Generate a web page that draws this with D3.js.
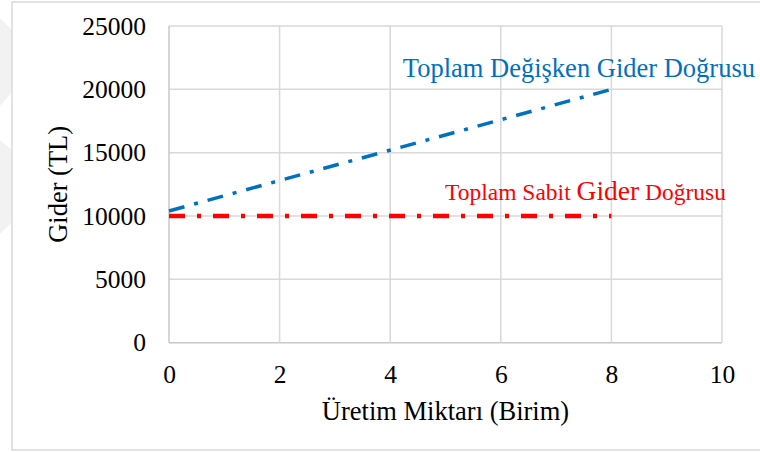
<!DOCTYPE html>
<html>
<head>
<meta charset="utf-8">
<script src="https://cdn.jsdelivr.net/npm/d3@7"></script>
<style>
  body { margin: 0; background: #fff; }
  svg text { font-family: "Times New Roman", "Liberation Serif", Tinos, "DejaVu Serif", serif; }
</style>
</head>
<body>
<div id="chart"></div>
<script>
var width = 760,
	height = 452;

var serif = "'Times New Roman', 'Liberation Serif', Tinos, 'DejaVu Serif', serif";

// veriler
var xTicks = [0, 2, 4, 6, 8, 10];
var yTicks = [0, 5000, 10000, 15000, 20000, 25000];
var sabitX = [0, 8];
var sabitY = [10000, 10000];
var degiskenX = [0, 8];
var degiskenY = [10400, 20000];

var svg = d3.select("#chart").append("svg")
	.attr("width", width)
	.attr("height", height)
	.style("font-family", serif);

// arka plandaki soluk filigran
svg.append("path")
	.attr("d", "M0,18 L12,30 L12,92 L0,106 Z M0,140 L12,150 L12,222 L0,234 Z")
	.style("fill", "#f2f2f2");

// dış çerçeve
svg.append("rect")
	.attr("x", 12)
	.attr("y", 2)
	.attr("width", 770)
	.attr("height", 448)
	.style("fill", "none")
	.style("stroke", "#d9d9d9")
	.style("stroke-width", 1.5);

var x = d3.scaleLinear().domain([0, 10]).range([169, 722]);
var y = d3.scaleLinear().domain([0, 25000]).range([342.7, 26]);

// ızgara
var grid = svg.append("g");
grid.selectAll(".hgrid")
	.data(yTicks)
	.enter()
	.append("line")
	.attr("x1", x(0))
	.attr("x2", x(10))
	.attr("y1", function(d){ return y(d); })
	.attr("y2", function(d){ return y(d); })
	.style("stroke", function(d){ return d === 0 ? "#c8c8c8" : "#d9d9d9"; })
	.style("stroke-width", 1.5);

grid.selectAll(".vgrid")
	.data(xTicks)
	.enter()
	.append("line")
	.attr("x1", function(d){ return x(d); })
	.attr("x2", function(d){ return x(d); })
	.attr("y1", y(0))
	.attr("y2", y(25000))
	.style("stroke", function(d){ return d === 0 ? "#c8c8c8" : "#d9d9d9"; })
	.style("stroke-width", 1.5);

// eksen etiketleri
var yAxis = d3.axisLeft(y).tickValues(yTicks).tickSize(0).tickPadding(23).tickFormat(d3.format("d"));
var gy = svg.append("g").attr("transform", "translate(" + x(0) + ",0)").call(yAxis);
gy.attr("font-family", null);
gy.select(".domain").remove();
gy.selectAll("text")
	.style("font-family", serif)
	.style("font-size", "25.5px")
	.style("fill", "#000");

var xAxis = d3.axisBottom(x).tickValues(xTicks).tickSize(0).tickPadding(22).tickFormat(d3.format("d"));
var gx = svg.append("g").attr("transform", "translate(0," + y(0) + ")").call(xAxis);
gx.attr("font-family", null);
gx.select(".domain").remove();
gx.selectAll("text")
	.style("font-family", serif)
	.style("font-size", "25.5px")
	.style("fill", "#000");

// eksen başlıkları
svg.append("text")
	.attr("x", (x(0) + x(10)) / 2)
	.attr("y", 420)
	.attr("text-anchor", "middle")
	.style("font-size", "26.5px")
	.text("Üretim Miktarı (Birim)");

svg.append("text")
	.attr("transform", "translate(67," + ((y(0) + y(25000)) / 2) + ") rotate(-90)")
	.attr("text-anchor", "middle")
	.style("font-size", "26.5px")
	.text("Gider (TL)");

// çizgiler
var line = d3.line()
	.x(function(d){ return x(d[0]); })
	.y(function(d){ return y(d[1]); });

svg.append("path")
	.datum(d3.zip(degiskenX, degiskenY))
	.attr("d", line)
	.style("fill", "none")
	.style("stroke", "#0070c0")
	.style("stroke-width", 3.5)
	.style("stroke-dasharray", "16,10,4,10");

svg.append("path")
	.datum(d3.zip(sabitX, sabitY))
	.attr("d", line)
	.style("fill", "none")
	.style("stroke", "#ff0000")
	.style("stroke-width", 4.5)
	.style("stroke-dasharray", "16,12,4,12");

// çizgi açıklamaları
svg.append("text")
	.attr("x", 755)
	.attr("y", 76.5)
	.attr("text-anchor", "end")
	.style("font-size", "26.5px")
	.style("fill", "#0070c0")
	.text("Toplam Değişken Gider Doğrusu");

var sabitLabel = svg.append("text")
	.attr("x", 726)
	.attr("y", 199.5)
	.attr("text-anchor", "end")
	.style("fill", "#ff0000");
sabitLabel.append("tspan").style("font-size", "23.5px").text("Toplam Sabit ");
sabitLabel.append("tspan").style("font-size", "27.5px").text("Gider");
sabitLabel.append("tspan").style("font-size", "23.5px").text(" Doğrusu");
</script>
</body>
</html>
